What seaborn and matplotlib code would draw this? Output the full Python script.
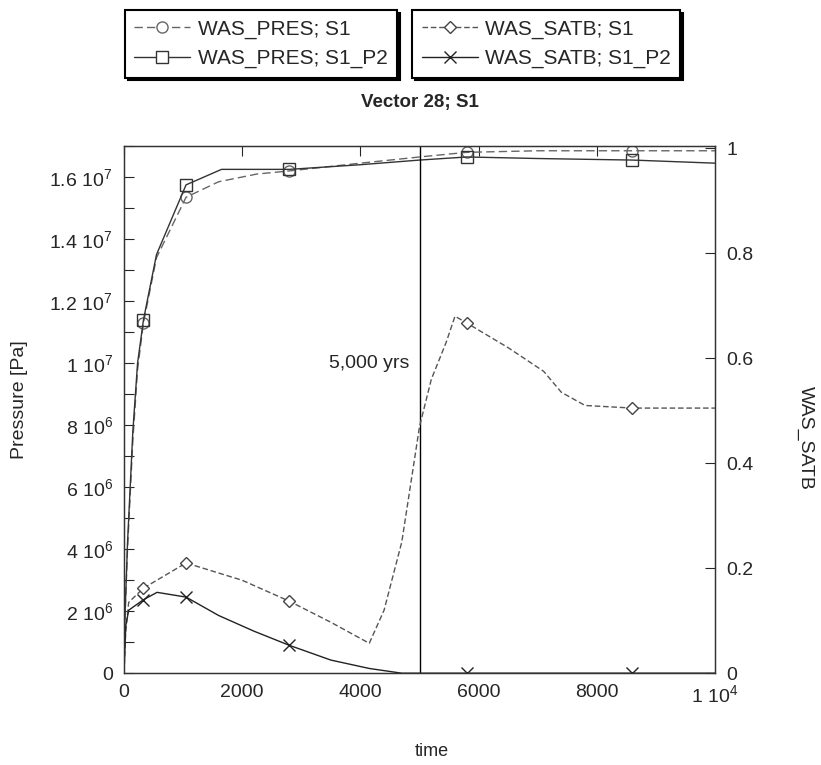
import matplotlib
matplotlib.use('Agg')
import matplotlib.pyplot as plt
import matplotlib.ticker as mticker
from matplotlib.lines import Line2D
import seaborn as sns
import pandas as pd

# series
t_pres_s1 = [0, 60, 150, 230, 330, 550, 1050, 1600, 2250, 2800, 4000, 5000, 5800, 7000, 8600, 10000]
pres_s1 = [0.9e6, 4.0e6, 7.5e6, 9.8e6, 11.3e6, 13.4e6, 15.35e6, 15.85e6, 16.1e6, 16.2e6,
           16.45e6, 16.65e6, 16.8e6, 16.85e6, 16.85e6, 16.85e6]
mk_pres_s1 = [4, 6, 9, 12, 14]

t_pres_p2 = [0, 60, 150, 230, 330, 550, 1050, 1650, 2800, 4000, 5000, 5800, 7000, 8600, 10000]
pres_p2 = [0.9e6, 4.2e6, 7.8e6, 10.0e6, 11.4e6, 13.5e6, 15.75e6, 16.25e6, 16.25e6, 16.4e6,
           16.55e6, 16.65e6, 16.6e6, 16.55e6, 16.45e6]
mk_pres_p2 = [4, 6, 8, 11, 13]

t_satb_s1 = [0, 30, 80, 330, 1050, 2000, 2800, 3500, 4150, 4400, 4700, 5000, 5200, 5450,
             5600, 5800, 6500, 7100, 7400, 7800, 8600, 10000]
satb_s1 = [0.0, 0.08, 0.135, 0.162, 0.21, 0.177, 0.137, 0.097, 0.057, 0.12, 0.25, 0.47,
           0.56, 0.63, 0.68, 0.667, 0.62, 0.575, 0.535, 0.51, 0.505, 0.505]
mk_satb_s1 = [3, 4, 6, 15, 20]

t_satb_p2 = [0, 30, 80, 330, 560, 1050, 1600, 2200, 2800, 3500, 4150, 4700, 5000, 5800, 8600, 10000]
satb_p2 = [0.0, 0.09, 0.12, 0.14, 0.154, 0.145, 0.11, 0.08, 0.053, 0.025, 0.009, 0.0, 0.0,
           0.0, 0.0, 0.0]
mk_satb_p2 = [3, 5, 8, 13, 14]

labels = ['WAS_PRES; S1', 'WAS_PRES; S1_P2', 'WAS_SATB; S1', 'WAS_SATB; S1_P2']

sns.set_style('white')
plt.rcParams['font.family'] = ['Liberation Sans', 'DejaVu Sans']
plt.rcParams['mathtext.default'] = 'regular'

fig = plt.figure(figsize=(8.21, 7.65), dpi=100)
ax = fig.add_axes([0.151, 0.120, 0.720, 0.689])
ax2 = ax.twinx()

styles = [
    dict(color='#666666', linestyle=(0, (6, 3)), marker='o', ms=8, mec='#666666'),
    dict(color='#333333', linestyle='-', marker='s', ms=8, mec='#333333'),
    dict(color='#555555', linestyle=(0, (4, 2)), marker='D', ms=6, mec='#444444'),
    dict(color='#222222', linestyle='-', marker='x', ms=8, mec='#222222'),
]

df = pd.DataFrame({'time': t_pres_s1, 'val': pres_s1})
sns.lineplot(data=df, x='time', y='val', ax=ax, lw=1, markevery=mk_pres_s1,
             mfc='none', mew=1, **styles[0])
df = pd.DataFrame({'time': t_pres_p2, 'val': pres_p2})
sns.lineplot(data=df, x='time', y='val', ax=ax, lw=1, markevery=mk_pres_p2,
             mfc='none', mew=1, **styles[1])
df = pd.DataFrame({'time': t_satb_s1, 'val': satb_s1})
sns.lineplot(data=df, x='time', y='val', ax=ax2, lw=1, markevery=mk_satb_s1,
             mfc='white', mew=1, **styles[2])
df = pd.DataFrame({'time': t_satb_p2, 'val': satb_p2})
sns.lineplot(data=df, x='time', y='val', ax=ax2, lw=1, markevery=mk_satb_p2,
             mfc='white', mew=1, **styles[3])

ax.axvline(5000, color='black', lw=1)
ax.text(4820, 1.0e7, '5,000 yrs', ha='right', va='center', fontsize=14)

ax.set_xlim(0, 10000)
ax.set_ylim(0, 1.7e7)
ax2.set_ylim(0, 1.004)


def xfmt(v, pos):
    if v == 0:
        return '0'
    if v >= 10000:
        return r'1 $10^{4}$'
    return '%d' % v


def yfmt(v, pos):
    if v == 0:
        return '0'
    e = 7 if v >= 1e7 else 6
    m = v / 10 ** e
    ms = ('%g' % round(m, 2))
    return ms + r' $10^{%d}$' % e


ax.xaxis.set_major_locator(mticker.MultipleLocator(2000))
ax.xaxis.set_major_formatter(mticker.FuncFormatter(xfmt))
ax.yaxis.set_major_locator(mticker.MultipleLocator(2e6))
ax.yaxis.set_minor_locator(mticker.MultipleLocator(1e6))
ax.yaxis.set_major_formatter(mticker.FuncFormatter(yfmt))
ax2.yaxis.set_major_locator(mticker.MultipleLocator(0.2))
ax2.yaxis.set_major_formatter(mticker.FuncFormatter(lambda v, p: '%g' % round(v, 1)))

ax.tick_params(axis='both', which='both', direction='in', labelsize=14, length=7,
               width=0.8, top=True, pad=8)
ax.tick_params(axis='y', which='both', right=False)
ax2.tick_params(axis='y', direction='in', labelsize=14, length=7, width=0.8, pad=8)

for a in (ax, ax2):
    a.set_xlabel('')
    a.set_ylabel('')
    for s in a.spines.values():
        s.set_color('#333333')
        s.set_linewidth(0.9)

fig.text(20 / 821, 1 - 400 / 765, 'Pressure [Pa]', rotation=90, ha='center', va='center', fontsize=14)
fig.text(805 / 821, 1 - 438 / 765, 'WAS_SATB', rotation=270, ha='center', va='center', fontsize=14)
fig.text(432 / 821, 1 - 752 / 765, 'time', ha='center', va='center', fontsize=13)
fig.text(420 / 821, 1 - 103 / 765, 'Vector 28; S1', ha='center', va='center',
         fontsize=13.5, fontweight='bold')

handles = []
for st, lab in zip(styles, labels):
    handles.append(Line2D([], [], lw=1, mfc='white', mew=1, label=lab, **st))

leg_kw = dict(frameon=True, fancybox=False, edgecolor='black', fontsize=15,
              handlelength=2.7, handletextpad=0.35, borderpad=0.45, labelspacing=0.5,
              borderaxespad=0, shadow={'color': 'black', 'alpha': 1}, framealpha=1)
leg1 = fig.legend(handles=handles[:2], loc='upper left', bbox_to_anchor=(0.152, 0.987), **leg_kw)
leg2 = fig.legend(handles=handles[2:], loc='upper left', bbox_to_anchor=(0.502, 0.987), **leg_kw)
for lg in (leg1, leg2):
    lg.get_frame().set_linewidth(1.5)

fig.savefig('out.png', dpi=100)
